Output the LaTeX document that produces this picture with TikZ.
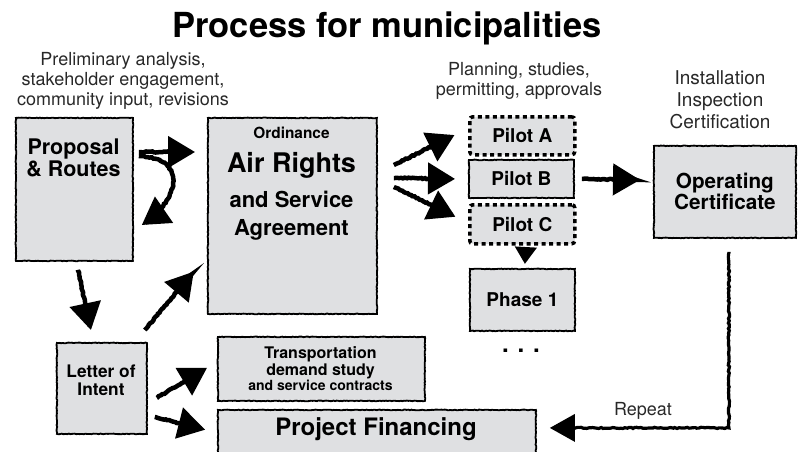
\documentclass[tikz,border=0pt]{standalone}
\usepackage{fontspec}
\setmainfont{TeX Gyre Heros}
\usetikzlibrary{arrows.meta,decorations.pathmorphing}
\definecolor{boxgray}{RGB}{223,224,226}
\definecolor{inkgray}{RGB}{40,40,40}
\tikzset{
  box/.style={draw, line width=1.8pt, fill=boxgray, inner sep=0pt,
    decorate, decoration={random steps, segment length=1.5pt, amplitude=0.35pt}},
  dotbox/.style={draw, line width=3.5pt, fill=boxgray, inner sep=0pt,
    dash pattern=on 4pt off 3.5pt, rounded corners=3pt},
  arr/.style={line width=4.5pt, -{Triangle[length=27pt,width=31pt]},
    decorate, decoration={random steps, segment length=2pt, amplitude=0.6pt,
    pre length=1pt, post length=4pt}},
  arrsmall/.style={arr, -{Triangle[length=17pt,width=21pt]}},
  rep/.style={arr, line width=3.2pt, -{Triangle[length=25pt,width=27pt]}},
  note/.style={font=\fontsize{18}{20}\selectfont, text=inkgray, align=center, inner sep=0pt},
  lbl/.style={font=\bfseries\fontsize{19}{22}\selectfont, align=center, inner sep=0pt},
}
\begin{document}
\begin{tikzpicture}[x=1pt, y=-1pt]
\useasboundingbox (0,0) rectangle (799,451);
\clip (0,0) rectangle (799,451);
% Title
\node[font=\bfseries\fontsize{34.5}{40}\selectfont, anchor=base] (title) at (387,37) {Process for municipalities};
% Notes
\node[note] (prelim) at (123,81) {Preliminary analysis,\\stakeholder engagement,\\community input, revisions};
\node[note] (plan) at (519,81) {Planning, studies,\\permitting, approvals};
\node[note, font=\fontsize{19}{22}\selectfont] (install) at (720,100) {Installation\\Inspection\\Certification};
% Boxes
\node[box, anchor=north west, minimum width=117pt, minimum height=143pt] (prop) at (15,117) {};
\node[lbl, font=\bfseries\fontsize{21.5}{22}\selectfont] (propT) at (73.5,158) {Proposal\\\& Routes};
\node[box, anchor=north west, minimum width=169pt, minimum height=196pt] (ord) at (207,117) {};
\node[lbl, font=\bfseries\fontsize{15.4}{18}\selectfont, anchor=base] (ordT) at (291.5,138) {Ordinance};
\node[lbl, font=\bfseries\fontsize{27}{30}\selectfont, anchor=base] (airT) at (291.5,172) {Air Rights};
\node[lbl, font=\bfseries\fontsize{22}{28}\selectfont] (agrT) at (291.5,216) {and Service\\Agreement};
\node[dotbox, lbl, anchor=north west, minimum width=105pt, minimum height=38pt] (pilotA) at (468,115) {Pilot A};
\node[box, lbl, anchor=north west, minimum width=105pt, minimum height=38pt] (pilotB) at (468,159) {Pilot B};
\node[dotbox, lbl, anchor=north west, minimum width=105pt, minimum height=39pt] (pilotC) at (468,203) {Pilot C};
\node[box, lbl, anchor=north west, minimum width=105pt, minimum height=62pt] (phase1) at (469,268) {Phase 1};
\node[font=\bfseries\fontsize{24}{24}\selectfont, anchor=base, inner sep=0pt] (more) at (521,352) {. . .};
\node[box, lbl, font=\bfseries\fontsize{20.7}{21}\selectfont, anchor=north west, minimum width=142pt, minimum height=92pt] (opcert) at (653,145) {Operating\\Certificate};
\node[box, anchor=north west, minimum width=90pt, minimum height=91pt] (letter) at (56,342) {};
\node[lbl, font=\bfseries\fontsize{17.3}{18}\selectfont] (letterT) at (101,380) {Letter of\\Intent};
\node[box, anchor=north west, minimum width=207pt, minimum height=64pt] (trans) at (217,336) {};
\node[lbl, font=\bfseries\fontsize{16}{17}\selectfont] (transT) at (320.5,362.5) {Transportation\\demand study};
\node[lbl, font=\bfseries\fontsize{14}{15}\selectfont, anchor=base] (contrT) at (320.5,390) {and service contracts};
\node[box, anchor=north west, minimum width=318pt, minimum height=60pt] (fin) at (217,409) {};
\node[lbl, font=\bfseries\fontsize{24}{26}\selectfont, anchor=base] (finT) at (376,435) {Project Financing};
% Arrows
\draw[arr] ([shift={(5pt,-35pt)}]prop.north east) -- ([shift={(-12pt,-35pt)}]ord.north west);
\draw[arr] ([shift={(5pt,-39pt)}]prop.north east) .. controls +(48pt,-2pt) and +(40pt,27pt) .. ([shift={(8pt,-108pt)}]prop.north east);
\draw[arr] ([shift={(3.5pt,-8pt)}]prop.south) -- ([shift={(-11pt,12pt)}]letter.north);
\draw[arr] ([shift={(-3pt,12pt)}]letter.north east) -- ([shift={(-13.2pt,43.2pt)}]ord.south west);
\draw[arr] ([shift={(16pt,-48pt)}]ord.north east) -- ([shift={(-13.5pt,0.7pt)}]pilotA.west);
\draw[arr] ([shift={(16pt,-61pt)}]ord.north east) -- ([shift={(-13pt,0pt)}]pilotB.west);
\draw[arr] ([shift={(16pt,-70pt)}]ord.north east) -- ([shift={(-12.6pt,7.5pt)}]pilotC.west);
\draw[arr] ([shift={(7pt,0pt)}]pilotB.east) -- ([shift={(-13pt,12pt)}]opcert.west);
\draw[arrsmall] ([shift={(3.5pt,-3pt)}]pilotC.south) -- ([shift={(2.5pt,4pt)}]phase1.north);
\draw[arr] ([shift={(9pt,-9.5pt)}]letter.east) -- ([shift={(-10pt,1pt)}]trans.west);
\draw[arr] ([shift={(7pt,-28.5pt)}]letter.east) -- ([shift={(-11.8pt,-20.7pt)}]fin.north west);
% Repeat loop
\draw[rep] ([shift={(4pt,-13pt)}]opcert.south) |- ([shift={(13pt,12pt)}]fin.east);
\node[note, anchor=base] (repeat) at (643,415) {Repeat};
\end{tikzpicture}
\end{document}
